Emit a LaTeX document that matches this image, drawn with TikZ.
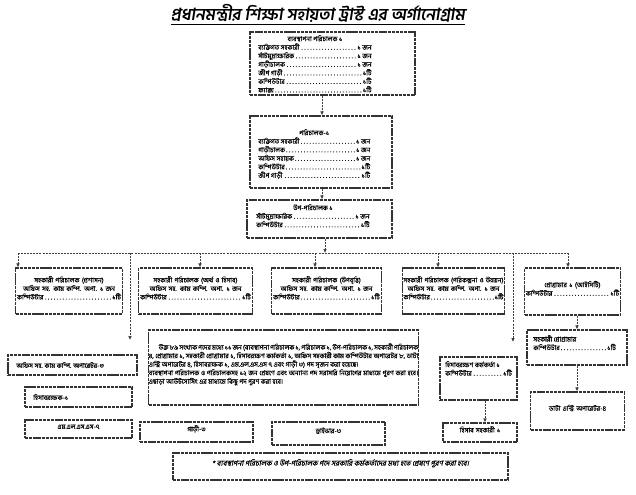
\documentclass[tikz,border=0pt]{standalone}
\usepackage{fontspec}
\setmainfont[Script=Bengali,FakeBold=0.3]{Hind Siliguri}
\newfontfamily\bnsl[Script=Bengali,FakeSlant=0.2,FakeBold=0.6]{Hind Siliguri}
\newfontfamily\bnti[Script=Bengali,FakeSlant=0.15]{Hind Siliguri}
\usetikzlibrary{arrows.meta,fit}
\newcommand{\ld}[3]{\makebox[#1]{#2\dotfill#3}}
\begin{document}
\begin{tikzpicture}[x=0.75pt,y=-0.75pt,
  bx/.style={draw=black!80, line width=0.85pt, dash pattern=on 2.5pt off 0.6pt, inner sep=0pt, font=\fontsize{5}{6.4}\selectfont},
  tx/.style={anchor=north west, inner sep=0pt, align=left, font=\fontsize{5}{6.4}\selectfont},
  tl/.style={anchor=west, inner sep=0pt, font=\fontsize{5}{6.4}\selectfont},
  con/.style={draw=black!75, line width=0.6pt, dash pattern=on 1.5pt off 0.8pt},
  arr/.style={con, -{Latex[length=3pt,width=2.8pt]}}]
\useasboundingbox[fill=white] (0,0) rectangle (636,494);

\node[font=\bnti\bfseries\fontsize{12.5}{14}\selectfont] (title) at (318,15) {\underline{প্রধানমন্ত্রীর শিক্ষা সহায়তা ট্রাস্ট এর অর্গানোগ্রাম}};

% top chain
\node[bx, fit={(250,32) (415,95)}] (md) {};
\node[tx] (mdt) at (258,35) {%
\makebox[85pt]{ব্যবস্থাপনা পরিচালক ১}\\
\ld{85pt}{ব্যক্তিগত সহকারী}{১ জন}\\
\ld{85pt}{সাঁটমুদ্রাক্ষরিক}{১ জন}\\
\ld{85pt}{গাড়ীচালক}{১ জন}\\
\ld{85pt}{জীপ গাড়ী}{১টি}\\
\ld{85pt}{কম্পিউটার}{১টি}\\
\ld{85pt}{ফ্যাক্স}{১টি}};

\node[bx, fit={(250,116) (392,188)}] (d1) {};
\node[tx] (d1t) at (258,129) {%
\makebox[84pt]{পরিচালক-১}\\
\ld{84pt}{ব্যক্তিগত সহকারী}{১ জন}\\
\ld{84pt}{গাড়ীচালক}{১ জন}\\
\ld{84pt}{অফিস সহায়ক}{১ জন}\\
\ld{84pt}{কম্পিউটার}{১টি}\\
\ld{84pt}{জীপ গাড়ী}{১টি}};

\node[bx, fit={(247,200) (392,238)}] (dd) {};
\node[tx] (ddt) at (256,204) {%
\makebox[85pt]{উপ-পরিচালক ১}\\
\ld{85pt}{সাঁটমুদ্রাক্ষরিক}{১ জন}\\
\ld{85pt}{কম্পিউটার}{১টি}};

% row of assistant directors
\node[bx, fit={(10,268) (128,314)}, text width=80pt, align=center] (ad1) {%
সহকারী পরিচালক (প্রশাসন)\\
অফিস সহ. কাম কম্পি. অপা. ১ জন\\
\ld{78pt}{কম্পিউটার}{১টি}};
\node[bx, fit={(133,268) (258,314)}, text width=85pt, align=center] (ad2) {%
সহকারী পরিচালক (অর্থ ও হিসাব)\\
অফিস সহ. কাম কম্পি. অপা. ১ জন\\
\ld{83pt}{কম্পিউটার}{১টি}};
\node[bx, fit={(266,268) (387,314)}, text width=82pt, align=center] (ad3) {%
সহকারী পরিচালক (উপবৃত্তি)\\
অফিস সহ. কাম কম্পি. অপা. ১ জন\\
\ld{80pt}{কম্পিউটার}{১টি}};
\node[bx, fit={(397,268) (510,314)}, text width=77pt, align=center] (ad4) {%
সহকারী পরিচালক (পরিকল্পনা ও উন্নয়ন)\\
অফিস সহ. কাম কম্পি. অপা. ১ জন\\
\ld{75pt}{কম্পিউটার}{১টি}};
\node[bx, fit={(518,268) (627,315)}, text width=72pt, align=center] (pg) {%
প্রোগ্রামার ১ (আইসিটি)\\
\ld{70pt}{কম্পিউটার}{১টি}\\[8pt]};

% left column
\node[bx, fit={(8,355) (137,375)}] (l1) {};
\node[tl] (l1t) at (16,365) {অফিস সহ. কাম কম্পি. অপারেটর-৩};
\node[bx, fit={(25,387) (132,407)}] (l2) {};
\node[tl] (l2t) at (33,397) {হিসাবরক্ষক-১};
\node[bx, fit={(25,420) (132,438)}, align=center] (l3) {এম.এল.এস.এস-৭};

% paragraph
\node[bx, fit={(142,330) (425,405)}, text width=202pt, align=justify] (note) {%
\hspace*{1.5em}উক্ত ৮৯ সংখ্যক পদের মধ্যে ১১ জন (ব্যবস্থাপনা পরিচালক ১, পরিচালক ১, উপ-পরিচালক ১, সহকারী পরিচালক ৪, প্রোগ্রামার ১, সহকারী প্রোগ্রামার ১, হিসাবরক্ষণ কর্মকর্তা ১, অফিস সহকারী কাম কম্পিউটার অপারেটর ৮, ডাটা এন্ট্রি অপারেটর ৪, হিসাবরক্ষক ১, এম.এল.এস.এস ৭ এবং গাড়ী ৩) পদ সৃজন করা হয়েছে।\\
ব্যবস্থাপনা পরিচালক ও পরিচালকসহ ১২ জন প্রেষণে এবং অন্যান্য পদ সরাসরি নিয়োগের মাধ্যমে পূরণ করা হবে। এছাড়া আউটসোর্সিং এর মাধ্যমে কিছু পদ পূরণ করা হবে।};

\node[bx, fit={(140,422) (253,442)}, align=center] (g1) {গাড়ী-৩};
\node[bx, fit={(272,422) (385,445)}, align=center] (g2) {ড্রাইভার-৩};

\node[bx, fit={(173,453) (508,480)}, font=\bnsl\fontsize{5.5}{7}\selectfont] (foot) {* ব্যবস্থাপনা পরিচালক ও উপ-পরিচালক পদে সরকারি কর্মকর্তাদের মধ্য হতে প্রেষণে পূরণ করা হবে।};

% right side
\node[bx, fit={(440,357) (517,400)}] (ac) {};
\node[tx] (act) at (445,361) {%
হিসাবরক্ষণ কর্মকর্তা ১\\
\ld{50pt}{কম্পিউটার}{১টি}};
\node[bx, fit={(443,423) (517,442)}, align=center] (as) {হিসাব সহকারী ১};
\node[bx, fit={(527,330) (627,365)}] (ap) {};
\node[tx] (apt) at (533,335) {%
সহকারী প্রোগ্রামার\\
\ld{62pt}{কম্পিউটার}{১টি}};
\node[bx, fit={(528,392) (627,430)}, text width=70pt, align=center] (de) {ডাটা এন্ট্রি অপারেটর-৪\\[10pt]};

% connectors
\coordinate (x322) at (322,0);
\coordinate (x325) at (325,0);
\coordinate (busL) at (18,253);
\coordinate (busR) at (568,253);
\coordinate (busdd) at (325,253);
\coordinate (b130) at (130,253);
\coordinate (e130) at (130,340);
\coordinate (b513) at (513,253);
\coordinate (e513) at (513,342);
\coordinate (b200) at (200,253);
\coordinate (b315) at (315,253);
\coordinate (b438) at (438,253);
\coordinate (x577) at (577,0);
\coordinate (x485) at (485,0);

\draw[arr] (md.south -| x322) -- (d1.north -| x322);
\draw[arr] (d1.south -| x322) -- (dd.north -| x322);
\draw[arr] (dd.south -| x325) -- (busdd);
\draw[con] (busL) -- (busR);
\draw[arr] (busL) -- (ad1.north -| busL);
\draw[arr] (b200) -- (ad2.north -| b200);
\draw[arr] (b315) -- (ad3.north -| b315);
\draw[arr] (b438) -- (ad4.north -| b438);
\draw[arr] (busR) -- (pg.north -| busR);
\draw[arr] (b130) -- (e130);
\draw[arr] (b513) -- (e513);
\draw[arr] (pg.south -| x577) -- (ap.north -| x577);
\draw[arr] (ap.south -| x577) -- (de.north -| x577);
\draw[arr] (ac.south -| x485) -- (as.north -| x485);
\end{tikzpicture}
\end{document}
